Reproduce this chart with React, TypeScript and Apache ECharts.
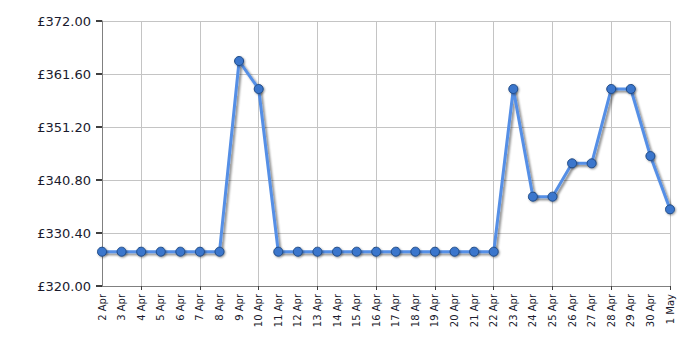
import React, { useEffect, useRef } from "react";
import * as echarts from "echarts";

const categories = [
  "2 Apr", "3 Apr", "4 Apr", "5 Apr", "6 Apr", "7 Apr", "8 Apr", "9 Apr", "10 Apr",
  "11 Apr", "12 Apr", "13 Apr", "14 Apr", "15 Apr", "16 Apr", "17 Apr", "18 Apr",
  "19 Apr", "20 Apr", "21 Apr", "22 Apr", "23 Apr", "24 Apr", "25 Apr", "26 Apr",
  "27 Apr", "28 Apr", "29 Apr", "30 Apr", "1 May",
];

const prices = [
  326.73, 326.73, 326.73, 326.73, 326.73, 326.73, 326.73, 364.15, 358.66,
  326.73, 326.73, 326.73, 326.73, 326.73, 326.73, 326.73, 326.73,
  326.73, 326.73, 326.73, 326.73, 358.66, 337.53, 337.53, 344.07,
  344.07, 358.66, 358.66, 345.5, 335.04,
];

const yMin = 320;
const yMax = 372;
const yStep = 10.4;

export default function App() {
  const ref = useRef<HTMLDivElement>(null);
  useEffect(() => {
    if (!ref.current) return;
    const chart = echarts.init(ref.current, null, { renderer: "svg" });
    const gridEvery = (i: number) => i > 0 && (i - 2) % 3 === 0;
    chart.setOption({
      animation: false,
      grid: { left: 102, right: 30, top: 21, bottom: 64, containLabel: false },
      xAxis: {
        type: "category",
        data: categories,
        boundaryGap: false,
        axisLine: { show: true, lineStyle: { color: "#808080", width: 1 } },
        axisTick: { show: true, interval: (i: number) => gridEvery(i), length: 4, lineStyle: { color: "#404040" } },
        splitLine: { show: true, interval: (i: number) => gridEvery(i), lineStyle: { color: "#c4c4c4", width: 1 } },
        axisLabel: {
          interval: 0,
          rotate: 90,
          margin: 8,
          fontSize: 10,
          fontFamily: "DejaVu Sans",
          color: "#1a1a2e",
        },
      },
      yAxis: {
        type: "value",
        min: yMin,
        max: yMax,
        interval: yStep,
        axisLine: { show: true, lineStyle: { color: "#808080", width: 1 } },
        axisTick: { show: true, inside: false, length: 6, lineStyle: { color: "#000000", width: 1.5 } },
        splitLine: { show: true, lineStyle: { color: "#c4c4c4", width: 1 } },
        axisLabel: {
          margin: 11,
          fontSize: 13,
          fontFamily: "DejaVu Sans",
          color: "#1a1a2e",
          formatter: (v: number) => "£" + v.toFixed(2),
        },
      },
      series: [
        {
          type: "line",
          data: prices,
          symbol: "circle",
          symbolSize: 9,
          lineStyle: {
            color: "#558fe6",
            width: 3,
            shadowColor: "rgba(0,0,0,0.45)",
            shadowBlur: 2,
            shadowOffsetX: 2,
            shadowOffsetY: 2,
          },
          itemStyle: {
            color: "#3b76cc",
            borderColor: "#1f4a85",
            borderWidth: 1,
            shadowColor: "rgba(0,0,0,0.4)",
            shadowBlur: 2,
            shadowOffsetX: 1,
            shadowOffsetY: 1,
          },
        },
      ],
    });
    return () => chart.dispose();
  }, []);
  return <div ref={ref} style={{ width: 700, height: 350, position: "absolute", left: 0, top: 0 }} />;
}
